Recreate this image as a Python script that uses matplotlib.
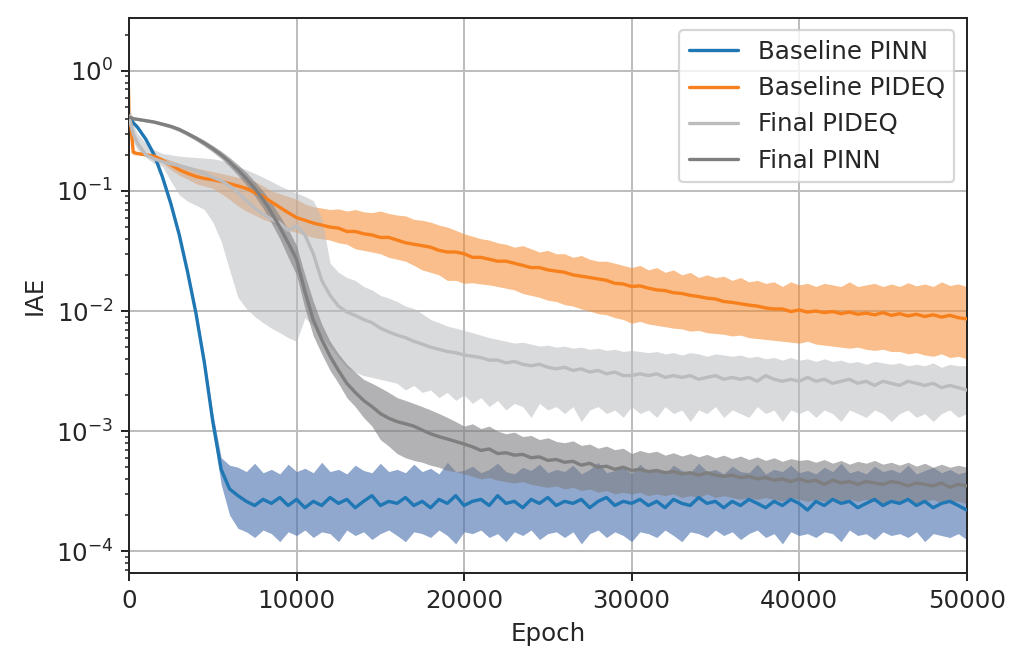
import numpy as np
import matplotlib
matplotlib.use("Agg")
import matplotlib.pyplot as plt
import seaborn as sns

# Epochen (dichter am Anfang)
EPOCHS = [0, 100, 250] + list(range(500, 50001, 500))

# Baseline PINN
pinn_base = [0.40, 0.40, 0.37, 0.34,
             0.27, 0.20, 0.13, 0.078, 0.043, 0.021, 0.0095, 0.0037, 0.0012, 4.8e-4,
             3.3e-4, 2.9e-4, 2.6e-4, 2.4e-4, 2.7e-4, 2.5e-4, 2.8e-4, 2.4e-4, 2.7e-4, 2.3e-4,
             2.6e-4, 2.4e-4, 2.8e-4, 2.5e-4, 2.7e-4, 2.3e-4, 2.6e-4, 2.9e-4, 2.4e-4, 2.6e-4,
             2.5e-4, 2.8e-4, 2.4e-4, 2.6e-4, 2.3e-4, 2.7e-4, 2.5e-4, 2.9e-4, 2.4e-4, 2.6e-4,
             2.7e-4, 2.4e-4, 2.9e-4, 2.5e-4, 2.6e-4, 2.3e-4, 2.7e-4, 2.5e-4, 2.8e-4, 2.4e-4,
             2.6e-4, 2.5e-4, 2.7e-4, 2.3e-4, 2.6e-4, 2.8e-4, 2.4e-4, 2.6e-4, 2.5e-4, 2.7e-4,
             2.4e-4, 2.6e-4, 2.3e-4, 2.7e-4, 2.5e-4, 2.4e-4, 2.8e-4, 2.5e-4, 2.6e-4, 2.3e-4,
             2.6e-4, 2.4e-4, 2.7e-4, 2.5e-4, 2.3e-4, 2.6e-4, 2.4e-4, 2.7e-4, 2.5e-4, 2.2e-4,
             2.6e-4, 2.4e-4, 2.7e-4, 2.5e-4, 2.6e-4, 2.3e-4, 2.5e-4, 2.7e-4, 2.4e-4, 2.6e-4,
             2.5e-4, 2.7e-4, 2.4e-4, 2.6e-4, 2.3e-4, 2.5e-4, 2.6e-4, 2.4e-4, 2.2e-4]
pinn_base_hi = [0.41, 0.41, 0.38, 0.35,
                0.28, 0.21, 0.137, 0.082, 0.046, 0.0225, 0.0103, 0.0041, 0.0014, 6.0e-4,
                5.2e-4, 5.0e-4, 4.6e-4, 5.4e-4, 4.5e-4, 4.8e-4, 4.4e-4, 5.3e-4, 4.6e-4, 4.9e-4,
                4.5e-4, 5.5e-4, 4.6e-4, 4.8e-4, 4.4e-4, 5.2e-4, 4.7e-4, 4.5e-4, 5.4e-4, 4.6e-4,
                4.8e-4, 4.5e-4, 5.3e-4, 4.6e-4, 4.9e-4, 4.4e-4, 5.5e-4, 4.6e-4, 4.7e-4, 5.1e-4,
                4.5e-4, 4.8e-4, 5.4e-4, 4.6e-4, 4.4e-4, 5.0e-4, 4.7e-4, 5.3e-4, 4.5e-4, 4.8e-4,
                4.6e-4, 5.2e-4, 4.4e-4, 4.8e-4, 5.5e-4, 4.5e-4, 4.7e-4, 5.0e-4, 4.4e-4, 5.3e-4,
                4.6e-4, 4.8e-4, 4.4e-4, 5.2e-4, 4.7e-4, 4.5e-4, 5.4e-4, 4.6e-4, 4.8e-4, 4.4e-4,
                5.1e-4, 4.6e-4, 4.5e-4, 5.3e-4, 4.4e-4, 4.8e-4, 4.6e-4, 5.2e-4, 4.5e-4, 4.7e-4,
                4.4e-4, 5.0e-4, 4.6e-4, 5.4e-4, 4.5e-4, 4.7e-4, 4.4e-4, 5.1e-4, 4.6e-4, 4.8e-4,
                4.5e-4, 5.2e-4, 4.4e-4, 4.7e-4, 5.0e-4, 4.5e-4, 4.8e-4, 4.4e-4, 4.6e-4]
pinn_base_lo = [0.39, 0.39, 0.36, 0.33,
                0.26, 0.19, 0.123, 0.074, 0.040, 0.0195, 0.0087, 0.0033, 0.00102, 3.6e-4,
                2.0e-4, 1.55e-4, 1.45e-4, 1.3e-4, 1.5e-4, 1.4e-4, 1.2e-4, 1.45e-4, 1.35e-4, 1.5e-4,
                1.3e-4, 1.45e-4, 1.4e-4, 1.2e-4, 1.5e-4, 1.35e-4, 1.45e-4, 1.25e-4, 1.4e-4, 1.5e-4,
                1.35e-4, 1.2e-4, 1.45e-4, 1.4e-4, 1.3e-4, 1.5e-4, 1.35e-4, 1.15e-4, 1.45e-4, 1.4e-4,
                1.5e-4, 1.3e-4, 1.4e-4, 1.2e-4, 1.45e-4, 1.35e-4, 1.5e-4, 1.25e-4, 1.4e-4, 1.45e-4,
                1.3e-4, 1.45e-4, 1.15e-4, 1.4e-4, 1.5e-4, 1.3e-4, 1.45e-4, 1.35e-4, 1.2e-4, 1.45e-4,
                1.4e-4, 1.3e-4, 1.5e-4, 1.35e-4, 1.2e-4, 1.45e-4, 1.4e-4, 1.3e-4, 1.5e-4, 1.35e-4,
                1.45e-4, 1.25e-4, 1.4e-4, 1.5e-4, 1.3e-4, 1.4e-4, 1.15e-4, 1.45e-4, 1.35e-4, 1.4e-4,
                1.3e-4, 1.45e-4, 1.4e-4, 1.2e-4, 1.5e-4, 1.35e-4, 1.4e-4, 1.25e-4, 1.45e-4, 1.35e-4,
                1.4e-4, 1.3e-4, 1.45e-4, 1.2e-4, 1.4e-4, 1.35e-4, 1.3e-4, 1.4e-4, 1.25e-4]

# Baseline PIDEQ
pideq_base = [0.40, 0.37, 0.21, 0.205,
              0.20, 0.195, 0.18, 0.165, 0.15, 0.14, 0.132, 0.127, 0.124, 0.12,
              0.115, 0.11, 0.105, 0.097, 0.09, 0.081, 0.073, 0.066, 0.060, 0.057,
              0.054, 0.052, 0.050, 0.049, 0.046, 0.046, 0.044, 0.043, 0.041, 0.041,
              0.039, 0.037, 0.036, 0.035, 0.034, 0.032, 0.031, 0.031, 0.030, 0.028,
              0.028, 0.027, 0.026, 0.026, 0.025, 0.024, 0.023, 0.023, 0.022, 0.0215,
              0.021, 0.020, 0.0195, 0.019, 0.0185, 0.018, 0.017, 0.0168, 0.016, 0.0162,
              0.0155, 0.015, 0.0148, 0.0142, 0.014, 0.0135, 0.0132, 0.0128, 0.0126, 0.012,
              0.0118, 0.0115, 0.0112, 0.011, 0.0106, 0.0104, 0.0104, 0.0099, 0.0102, 0.0098,
              0.0100, 0.0097, 0.0099, 0.0095, 0.0098, 0.0094, 0.0096, 0.0093, 0.0097, 0.0092,
              0.0095, 0.0091, 0.0094, 0.0090, 0.0093, 0.0089, 0.0092, 0.0088, 0.0086]
pideq_base_hi = [1.0, 0.45, 0.22, 0.21,
                 0.205, 0.20, 0.19, 0.18, 0.17, 0.16, 0.155, 0.15, 0.145, 0.14,
                 0.135, 0.13, 0.128, 0.12, 0.11, 0.10, 0.095, 0.09, 0.085, 0.078,
                 0.074, 0.072, 0.07, 0.071, 0.068, 0.07, 0.067, 0.066, 0.068, 0.065,
                 0.063, 0.062, 0.058, 0.057, 0.055, 0.052, 0.050, 0.047, 0.044, 0.042,
                 0.040, 0.039, 0.037, 0.036, 0.034, 0.035, 0.033, 0.031, 0.032, 0.030,
                 0.030, 0.028, 0.029, 0.027, 0.026, 0.026, 0.025, 0.024, 0.023, 0.024,
                 0.022, 0.023, 0.021, 0.022, 0.020, 0.021, 0.019, 0.020, 0.019, 0.0195,
                 0.018, 0.019, 0.0175, 0.018, 0.017, 0.0175, 0.016, 0.0175, 0.0165, 0.017,
                 0.016, 0.017, 0.0165, 0.016, 0.0175, 0.016, 0.0165, 0.017, 0.016, 0.0168,
                 0.016, 0.0172, 0.0162, 0.0168, 0.016, 0.0175, 0.0163, 0.0168, 0.016]
pideq_base_lo = [0.38, 0.30, 0.20, 0.20,
                 0.195, 0.19, 0.17, 0.15, 0.135, 0.125, 0.115, 0.11, 0.105, 0.095,
                 0.085, 0.075, 0.068, 0.063, 0.058, 0.055, 0.05, 0.047, 0.045, 0.043,
                 0.041, 0.040, 0.039, 0.037, 0.036, 0.033, 0.032, 0.031, 0.030, 0.028,
                 0.027, 0.026, 0.024, 0.022, 0.021, 0.020, 0.018, 0.018, 0.017, 0.0172,
                 0.0168, 0.0165, 0.016, 0.0155, 0.015, 0.014, 0.0135, 0.013, 0.0123, 0.012,
                 0.0113, 0.011, 0.0104, 0.010, 0.0095, 0.0093, 0.0088, 0.0085, 0.0079, 0.0082,
                 0.0078, 0.0076, 0.0074, 0.0072, 0.0071, 0.0068, 0.0069, 0.0066, 0.0065, 0.0064,
                 0.0062, 0.0063, 0.006, 0.0059, 0.0058, 0.0057, 0.0056, 0.0055, 0.0054, 0.0056,
                 0.0053, 0.0052, 0.0051, 0.0050, 0.0049, 0.0050, 0.0048, 0.0047, 0.0048, 0.0046,
                 0.0046, 0.0044, 0.0045, 0.0043, 0.0042, 0.0044, 0.0041, 0.0042, 0.0040]

# Final PIDEQ
pideq_final = [0.42, 0.36, 0.30, 0.25,
               0.20, 0.185, 0.175, 0.168, 0.162, 0.156, 0.148, 0.14, 0.13, 0.122,
               0.11, 0.097, 0.083, 0.072, 0.064, 0.058, 0.054, 0.047, 0.051, 0.043,
               0.030, 0.018, 0.0135, 0.011, 0.0098, 0.0092, 0.0085, 0.008, 0.0072, 0.0067,
               0.0063, 0.006, 0.0056, 0.0053, 0.0050, 0.0048, 0.0046, 0.0045, 0.0043, 0.0042,
               0.0041, 0.0039, 0.0039, 0.0037, 0.0038, 0.0036, 0.0035, 0.0036, 0.0034, 0.0033,
               0.0034, 0.0032, 0.0033, 0.0031, 0.0032, 0.0030, 0.0031, 0.0029, 0.0029, 0.0030,
               0.0029, 0.0030, 0.0028, 0.0029, 0.0028, 0.0029, 0.0027, 0.0028, 0.0029, 0.0027,
               0.0028, 0.0027, 0.0028, 0.0026, 0.0029, 0.0027, 0.0026, 0.0027, 0.0026, 0.0028,
               0.0026, 0.0027, 0.0025, 0.0026, 0.0027, 0.0025, 0.0026, 0.0024, 0.0026, 0.0025,
               0.0024, 0.0026, 0.0025, 0.0024, 0.0025, 0.0023, 0.0024, 0.0023, 0.0022]
pideq_final_hi = [0.55, 0.45, 0.36, 0.30,
                  0.25, 0.22, 0.205, 0.20, 0.195, 0.192, 0.19, 0.188, 0.185, 0.18,
                  0.17, 0.16, 0.15, 0.14, 0.13, 0.12, 0.11, 0.103, 0.096, 0.09,
                  0.083, 0.06, 0.025, 0.021, 0.019, 0.018, 0.016, 0.015, 0.0135, 0.0128,
                  0.012, 0.011, 0.0105, 0.0095, 0.0085, 0.008, 0.0075, 0.0072, 0.0069, 0.0066,
                  0.0063, 0.006, 0.0058, 0.0056, 0.0054, 0.0055, 0.0053, 0.0051, 0.0052, 0.005,
                  0.0051, 0.0049, 0.005, 0.0048, 0.0049, 0.0047, 0.0048, 0.0046, 0.0047, 0.0046,
                  0.0045, 0.0046, 0.0044, 0.0045, 0.0043, 0.0045, 0.0044, 0.0042, 0.0044, 0.0043,
                  0.0042, 0.0043, 0.0041, 0.0042, 0.004, 0.0041, 0.0039, 0.0041, 0.0039, 0.004,
                  0.0038, 0.004, 0.0038, 0.0039, 0.0037, 0.0038, 0.0036, 0.0038, 0.0037, 0.0036,
                  0.0037, 0.0035, 0.0036, 0.0035, 0.0037, 0.0034, 0.0036, 0.0035, 0.0035]
pideq_final_lo = [0.35, 0.30, 0.26, 0.22,
                  0.19, 0.17, 0.16, 0.12, 0.093, 0.082, 0.076, 0.07, 0.055, 0.038,
                  0.022, 0.013, 0.0105, 0.009, 0.008, 0.0072, 0.0066, 0.006, 0.0056, 0.0088,
                  0.0075, 0.0062, 0.005, 0.0041, 0.0034, 0.0031, 0.0029, 0.0028, 0.0027, 0.0026,
                  0.0025, 0.0022, 0.0024, 0.0021, 0.0022, 0.0019, 0.0021, 0.0018, 0.002, 0.0017,
                  0.0019, 0.0016, 0.0018, 0.0015, 0.0017, 0.0016, 0.0013, 0.0017, 0.0015, 0.0016,
                  0.0014, 0.0016, 0.0012, 0.0015, 0.0016, 0.0014, 0.0015, 0.0013, 0.0016, 0.0014,
                  0.0015, 0.0013, 0.0016, 0.0014, 0.0015, 0.0012, 0.0015, 0.0014, 0.0016, 0.0013,
                  0.0015, 0.0014, 0.0013, 0.0016, 0.0014, 0.0015, 0.0012, 0.0015, 0.0014, 0.0015,
                  0.0013, 0.0015, 0.0014, 0.0012, 0.0015, 0.0014, 0.0013, 0.0015, 0.0014, 0.0012,
                  0.0014, 0.0015, 0.0013, 0.0014, 0.0012, 0.0014, 0.0015, 0.0013, 0.0014]

# Final PINN
pinn_final = [0.41, 0.41, 0.40, 0.395,
              0.385, 0.375, 0.36, 0.345, 0.325, 0.30, 0.275, 0.25, 0.225, 0.20,
              0.175, 0.15, 0.127, 0.105, 0.085, 0.066, 0.05, 0.037, 0.027, 0.0145,
              0.0084, 0.0058, 0.0042, 0.0032, 0.0025, 0.0021, 0.0018, 0.0016, 0.0014, 0.00128,
              0.0012, 0.00115, 0.0011, 0.00102, 0.00095, 0.0009, 0.00086, 0.00082, 0.00078, 0.00074,
              0.00069, 0.00071, 0.00065, 0.00066, 0.00063, 0.00064, 0.0006, 0.00061, 0.00057, 0.00058,
              0.00055, 0.00056, 0.00052, 0.00054, 0.0005, 0.00051, 0.00048, 0.0005, 0.00047, 0.00048,
              0.00046, 0.00047, 0.00045, 0.00046, 0.00044, 0.00045, 0.00043, 0.00045, 0.00043, 0.00042,
              0.00043, 0.00041, 0.00042, 0.0004, 0.00041, 0.00039, 0.0004, 0.00038, 0.0004, 0.00038,
              0.00039, 0.00036, 0.00039, 0.00037, 0.00038, 0.00036, 0.00038, 0.00037, 0.00036, 0.00038,
              0.00037, 0.00035, 0.00037, 0.00036, 0.00035, 0.00037, 0.00034, 0.00036, 0.00035]
pinn_final_hi = [0.42, 0.42, 0.41, 0.405,
                 0.395, 0.385, 0.372, 0.357, 0.338, 0.313, 0.288, 0.264, 0.239, 0.215,
                 0.19, 0.166, 0.143, 0.12, 0.1, 0.08, 0.062, 0.048, 0.035, 0.02,
                 0.012, 0.0078, 0.0056, 0.0044, 0.0036, 0.0031, 0.0027, 0.0025, 0.0023, 0.0021,
                 0.0019, 0.0018, 0.0017, 0.0016, 0.0015, 0.0014, 0.0013, 0.0012, 0.0011, 0.00115,
                 0.00105, 0.0011, 0.001, 0.00095, 0.00098, 0.0009, 0.00092, 0.00085, 0.00088, 0.00082,
                 0.0008, 0.00083, 0.00076, 0.00078, 0.00072, 0.00075, 0.0007, 0.00072, 0.00065, 0.00069,
                 0.00066, 0.00068, 0.00063, 0.00066, 0.00062, 0.00065, 0.00061, 0.00064, 0.0006, 0.00063,
                 0.00059, 0.00062, 0.00058, 0.00061, 0.00057, 0.0006, 0.00056, 0.00059, 0.00057, 0.00058,
                 0.00055, 0.00058, 0.00054, 0.00057, 0.00053, 0.00056, 0.00054, 0.00057, 0.00053, 0.00055,
                 0.00052, 0.00055, 0.00051, 0.00054, 0.0005, 0.00053, 0.0005, 0.00052, 0.0005]
pinn_final_lo = [0.40, 0.40, 0.39, 0.385,
                 0.375, 0.365, 0.348, 0.333, 0.312, 0.287, 0.262, 0.236, 0.211, 0.186,
                 0.16, 0.135, 0.112, 0.091, 0.072, 0.054, 0.04, 0.028, 0.02, 0.0105,
                 0.0062, 0.0044, 0.0032, 0.0025, 0.0019, 0.0016, 0.0013, 0.0011, 0.00085, 0.00075,
                 0.00065, 0.0006, 0.00057, 0.00055, 0.00052, 0.0005, 0.00047, 0.00046, 0.00044, 0.00042,
                 0.0004, 0.00041, 0.00039, 0.00038, 0.00037, 0.00038, 0.00036, 0.00035, 0.00034, 0.00035,
                 0.00033, 0.00034, 0.00032, 0.00033, 0.00031, 0.00032, 0.0003, 0.00031, 0.0003, 0.00031,
                 0.00029, 0.0003, 0.00029, 0.0003, 0.00028, 0.00029, 0.00028, 0.0003, 0.00028, 0.00029,
                 0.00028, 0.00027, 0.00028, 0.00027, 0.00028, 0.00027, 0.00026, 0.00028, 0.00027, 0.00026,
                 0.00027, 0.00026, 0.00027, 0.00026, 0.00027, 0.00026, 0.00027, 0.00026, 0.00025, 0.00027,
                 0.00026, 0.00027, 0.00025, 0.00026, 0.00027, 0.00025, 0.00026, 0.00026, 0.00025]

# (nazwa, linia, dół, góra, kolor linii, kolor pasma, alpha)
SERIES = [
    ("Baseline PINN", pinn_base, pinn_base_lo, pinn_base_hi, "#1f77b4", "#4c72b0", 0.62),
    ("Baseline PIDEQ", pideq_base, pideq_base_lo, pideq_base_hi, "#f7801c", "#f58a2c", 0.55),
    ("Final PIDEQ", pideq_final, pideq_final_lo, pideq_final_hi, "#bcbcbf", "#bbbcc0", 0.55),
    ("Final PINN", pinn_final, pinn_final_lo, pinn_final_hi, "#7f7f7f", "#7f7f82", 0.6),
]

sns.set_context("notebook")
sns.set_style("ticks")
plt.rcParams["font.family"] = ["DejaVu Sans"]

fig = plt.figure(figsize=(6.4, 4.175), dpi=160)
ax = fig.add_axes([0.126, 0.142, 0.818, 0.831])

for name, y, lo, hi, lc, fc, a in SERIES:
    assert len(y) == len(lo) == len(hi) == len(EPOCHS), name
    ax.fill_between(EPOCHS, lo, hi, color=fc, alpha=a, linewidth=0, zorder=2)
for name, y, lo, hi, lc, fc, a in SERIES:
    ax.plot(EPOCHS, y, color=lc, linewidth=1.5, label=name, zorder=3)

ax.set_yscale("log")
ax.set_xlim(0, 50000)
ax.set_ylim(10 ** -4.183, 10 ** 0.44)
ax.set_xlabel("Epoch", fontsize=11)
ax.set_ylabel("IAE", fontsize=11)
ax.grid(True, which="major", color="#bdbdbd", linewidth=0.9, zorder=0)
ax.set_axisbelow(True)
ax.tick_params(which="major", length=3.5, width=0.9, labelsize=11)
ax.tick_params(which="minor", length=2, width=0.7)
for s in ax.spines.values():
    s.set_linewidth(0.9)
ax.legend(loc="upper right", fontsize=11)

fig.savefig("out.png", dpi=160)
